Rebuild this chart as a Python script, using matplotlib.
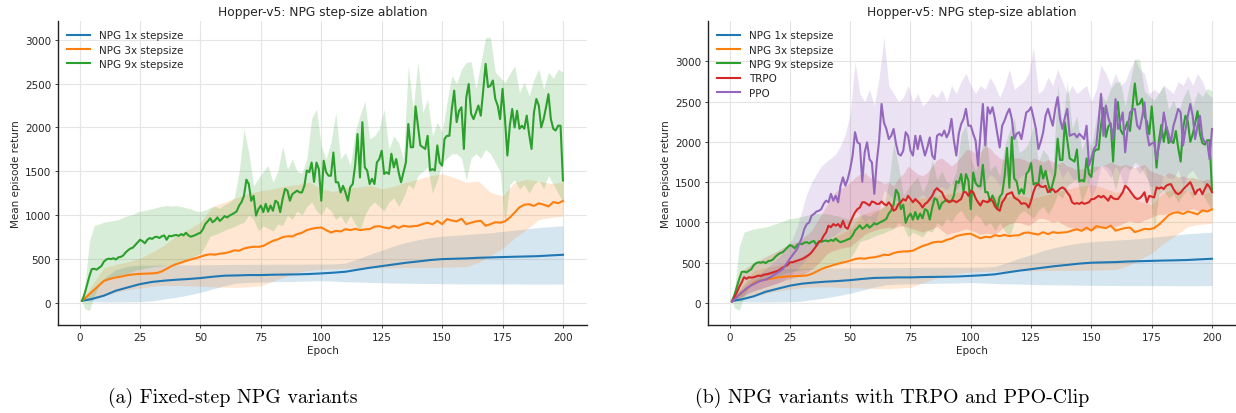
import numpy as np
import matplotlib
matplotlib.use("Agg")
import matplotlib.pyplot as plt

# ---------------- data ----------------
EPOCHS = list(range(1, 201))
BAND_EPOCHS = [1] + list(range(2, 201, 2))
SMOOTH_EPOCHS = [1] + list(range(5, 201, 5))

TITLE = "Hopper-v5: NPG step-size ablation"
X_LABEL = "Epoch"
Y_LABEL = "Mean episode return"
CAPTIONS = ["(a) Fixed-step NPG variants", "(b) NPG variants with TRPO and PPO-Clip"]
LABELS = ["NPG 1x stepsize", "NPG 3x stepsize", "NPG 9x stepsize", "TRPO", "PPO"]
X_TICKS = [0, 25, 50, 75, 100, 125, 150, 175, 200]
Y_TICKS = [0, 500, 1000, 1500, 2000, 2500, 3000]

# NPG 1x (smooth grid)
npg1_mean = [25, 45, 83, 140, 178, 215, 240, 254, 265, 273, 284, 299, 311, 314, 318, 318, 322, 324, 326, 330,
             337, 345, 356, 379, 401, 420, 439, 458, 473, 489, 500, 504, 508, 515, 519, 523, 527, 530, 534, 542, 549]
npg1_lo = [25, 15, 12, 12, 14, 15, 23, 45, 64, 91, 121, 159, 197, 227, 235, 238, 242, 244, 246, 250,
           254, 248, 242, 238, 235, 231, 227, 225, 223, 221, 220, 218, 217, 216, 216, 216, 216, 215, 215, 215, 216]
npg1_hi = [25, 130, 280, 380, 420, 430, 432, 432, 435, 435, 435, 437, 438, 440, 440, 441, 442, 442, 443, 443,
           443, 445, 455, 500, 555, 600, 650, 690, 720, 745, 760, 770, 780, 790, 800, 815, 830, 845, 860, 870, 880]

# NPG 3x (mean on band grid, band on smooth grid)
npg3_mean = [25, 50, 100, 150, 200, 250, 270, 285, 295, 305, 318, 325, 330, 332, 335, 337, 342, 360, 390, 420,
             443, 460, 480, 495, 510, 527, 545, 555, 550, 562, 568, 580, 600, 595, 620, 633, 640, 640, 650, 680,
             708, 725, 750, 760, 758, 784, 800, 830, 845, 855, 860, 830, 803, 822, 815, 841, 830, 845, 830, 838,
             841, 870, 875, 860, 850, 879, 855, 880, 870, 875, 880, 900, 915, 895, 936, 898, 955, 940, 930, 960,
             898, 915, 930, 936, 880, 898, 920, 915, 930, 973, 1030, 1090, 1120, 1125, 1106, 1136, 1120, 1100,
             1150, 1136, 1163]
npg3_lo = [25, 40, 80, 120, 150, 170, 190, 200, 200, 195, 190, 185, 180, 178, 185, 195, 250, 300, 350, 370,
           385, 390, 395, 398, 400, 400, 402, 404, 405, 405, 408, 410, 415, 460, 540, 620, 740, 840, 950, 975, 990]
npg3_hi = [25, 200, 400, 440, 470, 510, 580, 660, 770, 840, 920, 1100, 1150, 1200, 1250, 1280, 1300, 1330, 1350, 1380,
           1300, 1270, 1320, 1320, 1340, 1300, 1330, 1375, 1410, 1450, 1470, 1430, 1375, 1390, 1260, 1220, 1375,
           1410, 1390, 1360, 1375]

# NPG 9x (mean per epoch, band on band grid)
npg9_mean = [25, 100, 200, 300, 385, 390, 380, 400, 420, 470, 495, 505, 500, 510, 495, 520, 525, 540, 575, 600,
             620, 630, 660, 690, 720, 705, 680, 720, 740, 730, 750, 755, 740, 760, 770, 720, 765, 760, 770, 775,
             765, 785, 770, 800, 770, 755, 765, 775, 790, 800, 840, 900, 930, 965, 920, 940, 975, 935, 960, 990,
             975, 995, 1010, 1025, 1045, 1110, 1150, 1220, 1405, 1355, 1165, 1220, 995, 1070, 1110, 1035, 1130,
             1040, 1110, 1050, 1165, 1145, 1035, 1185, 1300, 1280, 1165, 1240, 1260, 1280, 1260, 1260, 1335, 1510,
             1490, 1600, 1380, 1600, 1525, 1165,
             1620, 1490, 1450, 1450, 1715, 1375, 1375, 1260, 1335, 1260, 1165, 1320, 1355, 1565, 1925, 1430, 2060,
             1545, 1510, 1355, 1415, 1355, 1600, 1640, 1735, 1470, 1490, 1470, 1700, 1545, 1640, 1490, 1375, 1490,
             1600, 2040, 1775, 1775, 2240, 2020, 1795, 1775, 1755, 1905, 1510, 1525, 1510, 1795, 1600, 1565, 1870,
             1905, 1905, 2210, 2420, 2060, 2190, 2230, 1755, 2345, 2495, 2155, 2095, 2170, 2250, 2135, 2420, 2725,
             2460, 2475, 2535, 2325, 2250, 2095, 2440, 2095, 1680, 2020, 2210, 2000, 2190, 1985, 2020, 1985, 2135,
             1925, 1755, 2170, 2325, 2250, 2000, 2095, 2230, 2380, 2095, 1985, 1965, 2020, 2020, 1395]
npg9_hi = [25, 150, 700, 880, 900, 920, 930, 940, 950, 975, 995, 1010, 1040, 1050, 1060, 1075, 1090, 1100, 1110,
           1105, 1110, 1100, 1085, 1070, 1050, 1040, 1060, 1090, 1100, 1080, 1120, 1150, 1200, 1500, 1985, 1715,
           1335, 1420, 1500, 1565, 1375, 1500, 1790, 1525, 1640, 1500, 1480, 1640, 2100, 2210, 1790, 1640, 1830,
           2170, 1640, 1715, 1570, 1945, 2135, 2300, 1870, 1905, 1985, 2210, 1750, 1905, 1830, 1640, 2705, 2210,
           2750, 2170, 2325, 1905, 2060, 1945, 2285, 2590, 2500, 2665, 2740, 2750, 2440, 2740, 3025, 3025, 2630,
           2570, 2515, 2610, 2705, 2400, 2515, 2360, 2550, 2665, 2440, 2630, 2560, 2665, 2630]
npg9_lo = [25, -60, -90, 80, 200, 250, 280, 300, 310, 320, 340, 360, 380, 390, 400, 410, 415, 420, 430, 440,
           455, 470, 490, 510, 540, 560, 650, 760, 780, 800, 830, 850, 870, 900, 920, 1000, 950, 820, 880, 850,
           820, 900, 880, 1000, 950, 1050, 1000, 1100, 1150, 1050, 1000, 1100, 1050, 950, 1000, 900, 1000, 900,
           820, 1000, 1100, 1150, 1100, 1050, 1150, 1200, 1100, 1200, 1350, 1300, 1450, 1500, 1550, 1250, 1400,
           1600, 1650, 1700, 1700, 1650, 1400, 1650, 1700, 1650, 1750, 1700, 1600, 1500, 900, 1350, 1400, 1300,
           1350, 1250, 1350, 1400, 1300, 1450, 1350, 1250, 1150]

# TRPO (mean per epoch, band on band grid)
trpo_mean = [17, 70, 130, 200, 255, 320, 300, 320, 315, 320, 330, 340, 335, 350, 355, 360, 370, 380, 390, 400,
             420, 440, 455, 470, 505, 505, 515, 525, 535, 545, 560, 580, 600, 630, 670, 710, 755, 775, 835, 875,
             960, 940, 980, 960, 980, 940, 1020, 940, 920, 1000, 1065, 1125, 1165, 1185, 1250, 1250, 1230, 1210,
             1260, 1250, 1230, 1230, 1260, 1230, 1210, 1250, 1210, 1145, 1165, 1230, 1250, 1290, 1270, 1330, 1290,
             1250, 1290, 1260, 1230, 1185, 1230, 1250, 1290, 1330, 1395, 1425, 1395, 1375, 1310, 1270, 1250, 1270,
             1270, 1250, 1270, 1290, 1375, 1375, 1330, 1395,
             1375, 1300, 1250, 1210, 1270, 1260, 1250, 1290, 1270, 1200, 1165, 1145, 1250, 1290, 1350, 1360, 1375,
             1310, 1290, 1270, 1230, 1240, 1230, 1185, 1270, 1380, 1455, 1475, 1445, 1440, 1455, 1375, 1400, 1415,
             1375, 1390, 1420, 1435, 1415, 1370, 1330, 1250, 1230, 1240, 1230, 1250, 1230, 1240, 1250, 1290, 1290,
             1310, 1330, 1310, 1330, 1300, 1270, 1330, 1300, 1290, 1290, 1330, 1375, 1455, 1430, 1390, 1350, 1310,
             1290, 1300, 1330, 1375, 1250, 1330, 1320, 1310, 1435, 1420, 1435, 1415, 1455, 1470, 1475, 1415, 1370,
             1350, 1370, 1410, 1440, 1470, 1500, 1430, 1350, 1400, 1415, 1350, 1415, 1475, 1440, 1375]
trpo_hi = [17, 80, 300, 420, 460, 500, 530, 560, 590, 620, 650, 690, 720, 740, 760, 800, 850, 900, 1000, 1100,
           1200, 1300, 1380, 1420, 1450, 1500, 1560, 1600, 1620, 1560, 1540, 1520, 1480, 1500, 1450, 1550, 1600,
           1700, 1650, 1600, 1580, 1620, 1700, 1780, 1800, 1750, 1700, 1750, 1820, 1900, 1900, 1850, 1880, 1950,
           1920, 1850, 1800, 1780, 1820, 1800, 1800, 1780, 1750, 1800, 1780, 1750, 1780, 1760, 1720, 1750, 1700,
           1680, 1650, 1670, 1650, 1680, 1700, 1690, 1720, 1750, 1720, 1700, 1720, 1700, 1680, 1700, 1720, 1650,
           1620, 1600, 1580, 1620, 1600, 1560, 1580, 1550, 1560, 1540, 1520, 1540, 1520]
trpo_lo = [17, 20, 60, 100, 130, 150, 170, 190, 210, 230, 250, 270, 290, 310, 330, 350, 380, 420, 470, 530,
           600, 640, 660, 680, 690, 700, 750, 800, 850, 880, 900, 920, 930, 940, 930, 950, 960, 940, 920, 900,
           880, 900, 920, 950, 900, 850, 870, 880, 900, 920, 900, 880, 850, 870, 860, 850, 900, 950, 980, 1000,
           1000, 980, 960, 1000, 1050, 1050, 1030, 1000, 1020, 980, 950, 930, 920, 900, 910, 900, 920, 940, 960,
           950, 950, 970, 1000, 1020, 1000, 1000, 1030, 1050, 1080, 1100, 1100, 1120, 1150, 1130, 1150, 1150,
           1170, 1150, 1130, 1150, 1150]

# PPO (mean per epoch, band on band grid)
ppo_mean = [17, 45, 75, 105, 130, 155, 180, 200, 220, 235, 250, 265, 277, 285, 290, 305, 320, 340, 360, 380,
            400, 420, 460, 505, 550, 590, 630, 670, 740, 815, 920, 980, 1000, 1085, 1105, 1135, 1145, 1165, 1230,
            1270, 1250, 1355, 1270, 1330, 1250, 1455, 1560, 1455, 1540, 1665, 1830, 2120, 1995, 1975, 1505, 1870,
            1995, 1785, 1745, 1355, 1745, 2015, 2470, 2240, 2160, 2035, 2075, 2160, 1975, 1850, 1830, 1890, 2120,
            2075, 1890, 1830, 2075, 1910, 2075, 1955, 1830, 1930, 2055, 1830, 1785, 2075, 2100, 2075, 2140, 2055,
            2120, 2285, 2015, 1830, 2100, 2220, 2285, 2410, 2200, 2200,
            2100, 2015, 1705, 2100, 2470, 1955, 2430, 2350, 2430, 2285, 2100, 1930, 2200, 2265, 2350, 2410, 2285,
            2035, 2100, 2120, 2035, 2200, 2365, 2385, 2430, 2300, 2160, 1910, 2000, 2120, 2325, 2410, 2300, 2200,
            2410, 2555, 2285, 2160, 2300, 2410, 2075, 2090, 2100, 2055, 2100, 2070, 2035, 2200, 1705, 1800, 1910,
            1955, 2250, 2595, 2075, 2450, 2300, 2200, 2035, 2530, 2160, 2250, 2365, 1870, 2160, 2365, 2400, 2410,
            2200, 2160, 2300, 2490, 2120, 1955, 1980, 1995, 1785, 1950, 2075, 2365, 2200, 2100, 1995, 2200, 2300,
            2410, 2365, 1955, 2150, 2325, 2470, 2325, 2035, 2200, 2325, 2055, 1995, 2000, 1785, 2160]
ppo_hi = [17, 60, 150, 220, 280, 320, 360, 400, 450, 500, 560, 620, 700, 800, 950, 1150, 1350, 1500, 1600, 1700,
          1750, 1800, 1850, 1950, 2100, 2350, 2990, 2600, 2500, 2650, 2450, 2800, 3300, 2700, 2600, 2500, 2550,
          2700, 2500, 2600, 2450, 2500, 2600, 2550, 2650, 2500, 2700, 2600, 2750, 2850, 2700, 2600, 2700, 2650,
          2800, 2700, 2550, 2700, 2900, 2650, 2700, 2750, 2850, 3170, 2600, 2650, 2800, 2700, 2900, 2750, 2600,
          2700, 2600, 2650, 2700, 2500, 2650, 2950, 2850, 2700, 2850, 2700, 2750, 2900, 3030, 2900, 2850, 2600,
          2650, 2600, 2700, 2650, 2600, 2750, 2700, 2820, 2700, 2850, 2750, 2600, 2550]
ppo_lo = [17, 30, 60, 90, 120, 150, 170, 190, 210, 230, 250, 280, 320, 370, 420, 480, 550, 620, 680, 730,
          780, 820, 850, 900, 950, 1000, 1150, 1100, 1000, 1050, 950, 1150, 1400, 1350, 1300, 1250, 1300, 1350,
          1250, 1300, 1350, 1300, 1250, 1400, 1450, 1400, 1500, 1400, 1500, 1600, 1550, 1450, 1400, 1500, 1600,
          1550, 1450, 1550, 1650, 1500, 1550, 1600, 1650, 1550, 1400, 1500, 1650, 1550, 1700, 1550, 1650, 1550,
          1500, 1500, 1550, 1300, 1450, 1700, 1650, 1550, 1700, 1600, 1400, 1650, 1700, 1600, 1700, 1450, 1450,
          1400, 1600, 1550, 1550, 1650, 1450, 1600, 1650, 1550, 1500, 1400, 1500]

COLORS = ["#1f77b4", "#ff7f0e", "#2ca02c", "#d62728", "#9467bd"]

for arr in (npg1_mean, npg1_lo, npg1_hi, npg3_lo, npg3_hi):
    assert len(arr) == len(SMOOTH_EPOCHS), len(arr)
for arr in (npg3_mean, npg9_hi, npg9_lo, trpo_hi, trpo_lo, ppo_hi, ppo_lo):
    assert len(arr) == len(BAND_EPOCHS), len(arr)
for arr in (npg9_mean, trpo_mean, ppo_mean):
    assert len(arr) == len(EPOCHS), len(arr)

SERIES = [
    (LABELS[0], SMOOTH_EPOCHS, npg1_mean, SMOOTH_EPOCHS, npg1_lo, npg1_hi),
    (LABELS[1], BAND_EPOCHS, npg3_mean, SMOOTH_EPOCHS, npg3_lo, npg3_hi),
    (LABELS[2], EPOCHS, npg9_mean, BAND_EPOCHS, npg9_lo, npg9_hi),
    (LABELS[3], EPOCHS, trpo_mean, BAND_EPOCHS, trpo_lo, trpo_hi),
    (LABELS[4], EPOCHS, ppo_mean, BAND_EPOCHS, ppo_lo, ppo_hi),
]

# ---------------- figure ----------------
plt.rcParams["font.family"] = ["DejaVu Sans"]
W, H = 1236, 414
fig = plt.figure(figsize=(W / 100, H / 100), dpi=100)

FS = 7.5
TXT = "#262626"


def draw(ax, n_series, ylim):
    for i in range(n_series):
        lab, xm, m, xb, lo, hi = SERIES[i]
        ax.fill_between(xb, lo, hi, color=COLORS[i], alpha=0.18, linewidth=0)
        ax.plot(xm, m, color=COLORS[i], lw=1.5, label=lab)
    ax.set_xlim(-8.95, 209.95)
    ax.set_ylim(*ylim)
    ax.set_xticks(X_TICKS)
    ax.set_yticks(Y_TICKS)
    ax.grid(True, color="#e5e5e5", lw=0.8)
    ax.set_axisbelow(True)
    for s in ("top", "right"):
        ax.spines[s].set_visible(False)
    for s in ("left", "bottom"):
        ax.spines[s].set_color("#222222")
        ax.spines[s].set_linewidth(1.0)
    ax.tick_params(labelsize=FS, length=2.5, width=0.6, pad=2.5, colors=TXT)
    ax.set_title(TITLE, fontsize=8.8, pad=4, color=TXT)
    ax.set_xlabel(X_LABEL, fontsize=FS, labelpad=2, color=TXT)
    ax.set_ylabel(Y_LABEL, fontsize=FS, labelpad=3, color=TXT)
    leg = ax.legend(loc="upper left", frameon=False, fontsize=FS, handlelength=2.2,
                    labelspacing=0.42, handletextpad=0.8)
    for t in leg.get_texts():
        t.set_color(TXT)


ax1 = fig.add_axes([58 / W, (H - 326) / H, 529 / W, 304 / H])
draw(ax1, 3, (-251, 3213))
ax2 = fig.add_axes([708 / W, (H - 326) / H, 528 / W, 304 / H])
draw(ax2, 5, (-273, 3500))

fig.text(233 / W, (H - 398) / H, CAPTIONS[0], ha="center", va="center", fontsize=14.3,
         family="cmr10", color="black")
fig.text(892 / W, (H - 398) / H, CAPTIONS[1], ha="center", va="center", fontsize=14.3,
         family="cmr10", color="black")

fig.savefig("out.png", dpi=100)
